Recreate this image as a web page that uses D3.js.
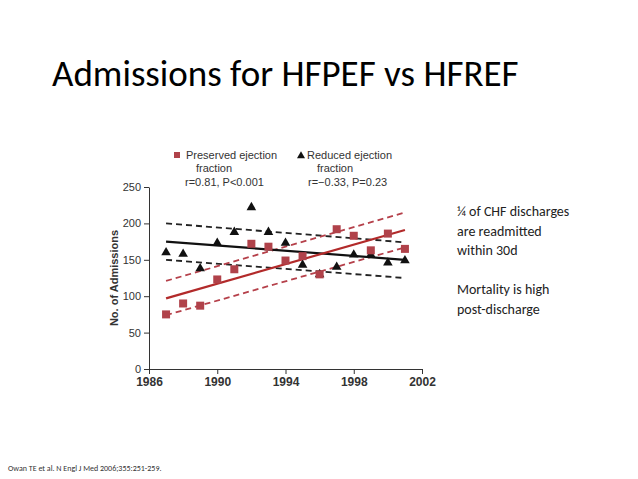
<!DOCTYPE html>
<html><head><meta charset="utf-8">
<script src="https://cdn.jsdelivr.net/npm/d3@7"></script>
<style>body{margin:0;background:#fff;font-family:Carlito,Calibri,"Open Sans",sans-serif}</style>
</head><body>
<svg id="chart" width="638" height="479"></svg>
<script>
const years = d3.range(1987, 2002);
const preserved = [75, 90, 87, 123, 137, 172, 168, 149, 155, 130, 192, 183, 163, 186, 165];
const reduced = [160, 158, 138, 173, 188, 222, 188, 173, 143, 130, 140, 157, 157, 146, 149];
// fit lines: [start 1987, end 2001]
const redFit = [97, 191], redHi = [121, 215], redLo = [74, 167];
const blackFit = [175, 150], blackHi = [200, 174], blackLo = [150, 125];
const xTicks = [1986, 1990, 1994, 1998, 2002];
const yTicks = [0, 50, 100, 150, 200, 250];

const svg = d3.select("#chart");
const x = d3.scaleLinear().domain([1986, 2002]).range([149, 422]);
const y = d3.scaleLinear().domain([0, 250]).range([369, 187]);

svg.append("text").attr("x", 52).attr("y", 86).attr("font-size", 37)
  .attr("font-family", "Carlito, 'Open Sans', sans-serif").text("Admissions for HFPEF vs HFREF");

const xa = svg.append("g").attr("transform", "translate(0,369)")
  .call(d3.axisBottom(x).tickValues(xTicks).tickFormat(d3.format("d")).tickSize(5).tickSizeOuter(0));
xa.selectAll("text").attr("font-size", 12).attr("font-weight", "bold").attr("fill", "#333").attr("font-family", "'Liberation Sans Narrow', Arial, sans-serif");
const ya = svg.append("g").attr("transform", "translate(149,0)")
  .call(d3.axisLeft(y).tickValues(yTicks).tickSize(5).tickSizeOuter(0));
ya.selectAll("text").attr("font-size", 11).attr("fill", "#333").attr("font-family", "'Liberation Sans Narrow', Arial, sans-serif");
svg.selectAll(".domain, .tick line").attr("stroke", "#333");
svg.append("text").attr("transform", "translate(118,278) rotate(-90)").attr("text-anchor", "middle")
  .attr("font-size", 11).attr("font-weight", "bold").attr("fill", "#333")
  .attr("font-family", "'Liberation Sans Narrow', Arial, sans-serif").text("No. of Admissions");

function line(v, color, dash) {
  svg.append("line").attr("x1", x(1987)).attr("y1", y(v[0])).attr("x2", x(2001)).attr("y2", y(v[1]))
    .attr("stroke", color).attr("stroke-width", dash ? 1.8 : 2.2).attr("stroke-dasharray", dash ? "6,4" : null);
}
line(blackHi, "#222", true); line(blackLo, "#222", true);
line(redHi, "#b5404a", true); line(redLo, "#b5404a", true);
line(blackFit, "#111", false); line(redFit, "#b22a2a", false);

const tri = d3.symbol().type(d3.symbolTriangle).size(40);
svg.selectAll(".r").data(reduced).enter().append("path")
  .attr("d", tri).attr("transform", (d, i) => `translate(${x(years[i])},${y(d)})`).attr("fill", "#111");
svg.selectAll(".p").data(preserved).enter().append("rect")
  .attr("x", (d, i) => x(years[i]) - 4).attr("y", d => y(d) - 4).attr("width", 8).attr("height", 8)
  .attr("fill", "#b0424a");

const lg = svg.append("g").attr("font-family", "'Liberation Sans Narrow', Arial, sans-serif").attr("font-size", 11).attr("fill", "#333");
lg.append("rect").attr("x", 174).attr("y", 152).attr("width", 6).attr("height", 6).attr("fill", "#b0424a");
lg.append("text").attr("x", 186).attr("y", 159).text("Preserved ejection");
lg.append("text").attr("x", 196).attr("y", 172).text("fraction");
lg.append("text").attr("x", 185).attr("y", 186).text("r=0.81, P<0.001");
lg.append("path").attr("d", d3.symbol().type(d3.symbolTriangle).size(28)).attr("transform", "translate(301,156)").attr("fill", "#111");
lg.append("text").attr("x", 307).attr("y", 159).text("Reduced ejection");
lg.append("text").attr("x", 317).attr("y", 172).text("fraction");
lg.append("text").attr("x", 308).attr("y", 186).text("r=\u22120.33, P=0.23");

const side = ["\u00BC of CHF discharges", "are readmitted", "within 30d", "", "Mortality is high", "post-discharge"];
svg.append("g").selectAll("text").data(side).enter().append("text")
  .attr("x", 457).attr("y", (d, i) => 216 + i * 19.5).attr("font-size", 14).attr("fill", "#222").text(d => d);

svg.append("text").attr("x", 8).attr("y", 471).attr("font-size", 8).attr("fill", "#333")
  .text("Owan TE et al. N Engl J Med 2006;355:251-259.");
</script>
</body></html>
